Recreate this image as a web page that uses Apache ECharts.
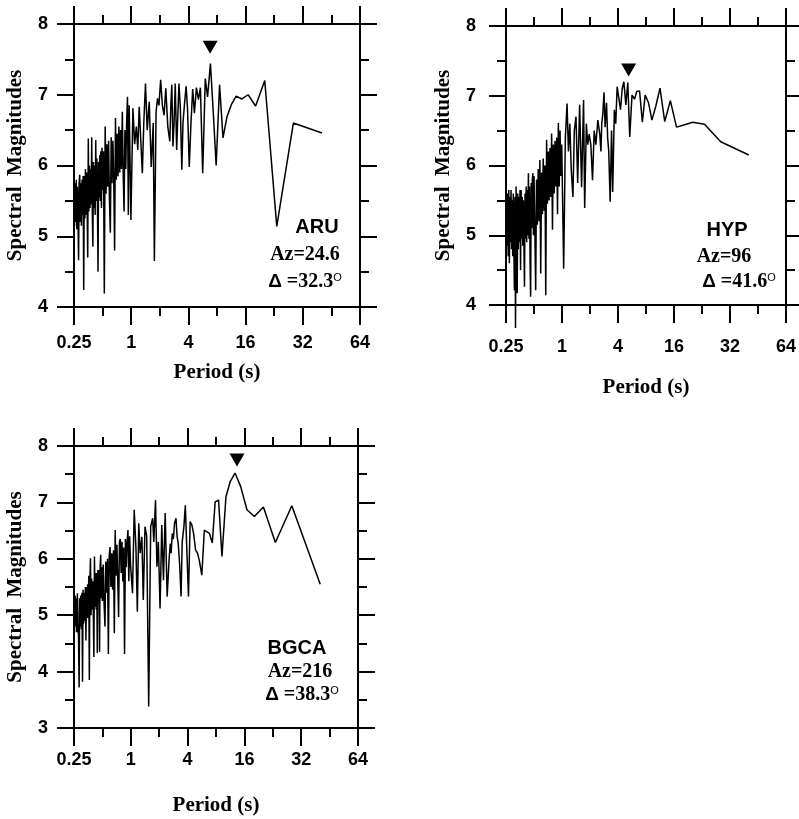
<!DOCTYPE html>
<html>
<head>
<meta charset="utf-8">
<script src="https://cdn.jsdelivr.net/npm/echarts@6/dist/echarts.min.js"></script>
<style>
  html, body { margin: 0; padding: 0; background: #fff; }
  #chart { width: 799px; height: 819px; }
</style>
</head>
<body>
<div id="chart"></div>
<script>
// period axis position, in octaves above 0.25 s (same sampling for all three stations)
const oct = [
  0.00, 0.02, 0.04, 0.06, 0.08, 0.10, 0.12, 0.14, 0.16, 0.18, 0.20, 0.22, 0.24, 0.26, 0.28, 0.30,
  0.32, 0.34, 0.36, 0.38, 0.40, 0.42, 0.44, 0.46, 0.48, 0.50, 0.52, 0.54, 0.56, 0.58, 0.60, 0.62,
  0.64, 0.66, 0.68, 0.70, 0.72, 0.74, 0.76, 0.78, 0.80, 0.82, 0.84, 0.86, 0.88, 0.90, 0.92, 0.94,
  0.96, 0.98, 1.00,
  1.03, 1.06, 1.09, 1.12, 1.15, 1.18, 1.21, 1.24, 1.27, 1.30, 1.33, 1.36, 1.39, 1.42, 1.45, 1.48,
  1.51, 1.54, 1.57, 1.60, 1.63, 1.66, 1.69, 1.72, 1.75, 1.78, 1.81, 1.84, 1.87, 1.90, 1.93, 1.96,
  1.99,
  2.06, 2.12, 2.18, 2.23, 2.28, 2.33, 2.39, 2.44, 2.50, 2.56, 2.63, 2.70, 2.77, 2.81, 2.87, 2.92,
  2.97, 3.03, 3.09, 3.15, 3.21, 3.28, 3.35, 3.39, 3.42, 3.46, 3.50, 3.54, 3.59, 3.63, 3.67, 3.72,
  3.77, 3.81, 3.87, 3.92, 3.97, 4.03, 4.09, 4.15, 4.21, 4.28, 4.35, 4.42, 4.50, 4.59, 4.67, 4.77,
  4.87, 4.97, 5.09, 5.21, 5.35, 5.50, 5.67, 5.87, 6.09, 6.35, 6.67, 7.09, 7.67, 8.67
]

const aruMag = [
  5.55, 5.15, 5.75, 5.20, 5.80, 5.10, 5.70, 5.25, 4.66, 5.75, 5.87, 5.20, 5.75, 5.15, 5.80, 5.30,
  5.85, 4.24, 5.85, 5.25, 5.95, 5.30, 5.90, 5.40, 4.70, 6.38, 5.35, 6.00, 5.40, 5.95, 5.45, 6.40,
  5.35, 4.85, 6.05, 5.40, 6.00, 5.30, 6.36, 5.50, 6.10, 5.45, 4.50, 6.05, 5.55, 6.15, 5.50, 6.20,
  5.40, 6.25, 5.65,
  6.20, 4.19, 6.55, 5.60, 6.30, 5.70, 6.35, 5.50, 5.05, 6.40, 5.75, 6.35, 5.80, 4.80, 6.67, 5.80,
  6.45, 5.85, 6.55, 5.90, 6.50, 5.95, 6.76, 5.90, 5.35, 6.50, 5.95, 6.60, 6.97, 5.30, 6.85, 6.05,
  5.23,
  6.81, 6.30, 6.55, 6.22, 6.83, 6.40, 5.89, 6.60, 7.16, 6.50, 6.90, 5.98, 6.60, 4.65, 6.76, 6.95,
  6.85, 7.21, 6.85, 6.71, 7.09, 6.55, 6.34, 6.90, 7.14, 6.27, 6.60, 7.16, 6.22, 6.70, 7.16, 6.80,
  5.94, 6.60, 6.90, 7.12, 6.80, 5.98, 6.60, 7.08, 6.74, 7.10, 6.93, 7.10, 5.89, 7.23, 6.97, 7.44,
  6.75, 6.00, 7.14, 6.39, 6.69, 6.86, 6.98, 6.94, 7.00, 6.84, 7.20, 5.14, 6.60, 6.46
]

const hypMag = [
  4.00, 5.55, 4.85, 5.60, 4.70, 5.65, 4.60, 5.55, 4.90, 5.65, 4.80, 5.50, 4.70, 5.60, 4.85, 4.21,
  5.55, 3.67, 5.70, 4.90, 4.17, 5.60, 4.80, 5.55, 4.90, 5.65, 4.50, 5.65, 4.95, 5.55, 4.85, 5.50,
  4.90, 4.26, 5.60, 4.95, 5.70, 4.90, 5.65, 5.00, 5.89, 4.95, 5.70, 4.60, 4.12, 5.75, 5.10, 5.80,
  5.89, 5.00, 5.85,
  5.10, 4.21, 5.80, 5.15, 5.95, 5.20, 6.08, 4.45, 5.90, 5.30, 6.10, 5.35, 6.00, 4.14, 6.37, 5.45,
  6.20, 5.50, 6.25, 5.55, 6.46, 5.08, 6.30, 5.60, 6.35, 5.70, 6.40, 5.30, 6.61, 5.70, 6.50, 5.85,
  6.30,
  4.52, 6.40, 6.89, 6.20, 6.60, 5.95, 5.55, 6.50, 6.70, 5.75, 6.87, 5.69, 6.94, 5.39, 6.60, 6.30,
  6.45, 6.30, 5.79, 6.50, 6.30, 6.65, 6.45, 6.20, 6.60, 6.75, 7.05, 6.55, 6.90, 6.40, 6.20, 5.48,
  6.50, 5.62, 6.80, 6.60, 7.13, 7.15, 6.80, 7.10, 7.20, 6.87, 7.19, 6.41, 7.01, 6.95, 7.06, 7.07,
  6.62, 7.01, 6.90, 6.65, 6.85, 7.11, 6.63, 6.93, 6.55, 6.58, 6.62, 6.59, 6.34, 6.15
]

const bgcaMag = [
  5.10, 4.70, 5.35, 4.80, 5.30, 4.70, 5.39, 4.85, 4.60, 3.72, 5.30, 4.80, 5.35, 4.75, 5.40, 3.82,
  5.45, 4.85, 5.40, 4.90, 5.50, 4.55, 5.50, 4.95, 5.55, 4.95, 5.70, 3.85, 5.60, 6.01, 5.00, 5.65,
  5.10, 5.60, 5.05, 4.26, 6.04, 5.15, 5.75, 5.10, 5.75, 4.33, 5.80, 5.25, 5.80, 4.35, 5.85, 6.07,
  5.30, 5.85, 5.25,
  5.90, 5.20, 4.80, 5.95, 5.40, 6.00, 4.31, 6.05, 6.21, 5.50, 6.10, 5.45, 6.15, 4.68, 6.51, 5.70,
  6.25, 5.65, 4.97, 6.30, 6.35, 5.75, 6.30, 5.60, 6.20, 4.31, 6.35, 5.85, 6.30, 6.51, 5.60, 6.40,
  5.90,
  5.39, 6.87, 6.20, 5.06, 6.63, 6.10, 6.39, 5.27, 6.57, 6.40, 3.38, 6.57, 6.72, 6.30, 7.04, 5.86,
  6.30, 5.12, 6.60, 5.62, 6.81, 5.33, 6.00, 6.27, 6.10, 6.45, 6.35, 6.63, 6.72, 6.40, 6.27, 5.90,
  5.33, 6.30, 6.57, 6.95, 6.20, 5.33, 6.66, 6.60, 6.45, 6.16, 6.10, 5.95, 5.71, 6.51, 6.48, 6.45,
  6.28, 7.01, 7.04, 6.04, 7.10, 7.37, 7.52, 7.28, 6.87, 6.75, 6.92, 6.29, 6.94, 5.55
]

// tick labels of the period axis, as printed on the figure
const periodTickPos = [0, 2, 4, 6, 8, 10]
const periodTickText = ['0.25', '1', '4', '16', '32', '64']

// inverted triangles marking the spectral peak of each station
const peakOct = [4.76, 4.38, 5.74]
const peakMag = [7.67, 7.37, 7.75]

const sans = '"Liberation Sans", Arial, sans-serif'
const serif = '"Liberation Serif", "Times New Roman", serif'
const ink = '#000'

const frame = { show: true, onZero: false, lineStyle: { color: ink, width: 2 } }
const major = len => ({ show: true, length: len, lineStyle: { color: ink, width: 2 } })
const minor = len => ({ show: true, splitNumber: 2, length: len, lineStyle: { color: ink, width: 2 } })

const periodLabel = v => {
  const i = periodTickPos.indexOf(Math.round(v * 100) / 100)
  return i >= 0 ? periodTickText[i] : ''
}

const xAxes = (grid, labelMargin, nameGap) => [
  {
    type: 'value', gridIndex: grid, position: 'bottom', min: 0, max: 10, interval: 2,
    axisLine: frame, axisTick: major(18), minorTick: minor(9), splitLine: { show: false },
    axisLabel: {
      margin: labelMargin, color: ink, fontFamily: sans, fontWeight: 'bold', fontSize: 18,
      showMinLabel: true, showMaxLabel: true, formatter: periodLabel
    },
    name: 'Period (s)', nameLocation: 'middle', nameGap,
    nameTextStyle: { fontFamily: serif, fontWeight: 'bold', fontSize: 21, color: ink }
  },
  {
    type: 'value', gridIndex: grid, position: 'top', min: 0, max: 10, interval: 2,
    axisLine: frame, axisTick: major(18), minorTick: minor(9), splitLine: { show: false },
    axisLabel: { show: false }
  }
]

const yAxes = (grid, min, labelMargin, nameGap) => [
  {
    type: 'value', gridIndex: grid, position: 'left', min, max: 8, interval: 1,
    axisLine: frame, axisTick: major(17), minorTick: minor(9), splitLine: { show: false },
    axisLabel: { margin: labelMargin, color: ink, fontFamily: sans, fontWeight: 'bold', fontSize: 18 },
    name: 'Spectral  Magnitudes', nameLocation: 'middle', nameGap,
    nameTextStyle: { fontFamily: serif, fontWeight: 'bold', fontSize: 21, color: ink }
  },
  {
    type: 'value', gridIndex: grid, position: 'right', min, max: 8, interval: 1,
    axisLine: frame, axisTick: major(17), minorTick: minor(9), splitLine: { show: false },
    axisLabel: { show: false }
  }
]

const trace = (mag, axis) => ({
  type: 'line', xAxisIndex: axis, yAxisIndex: axis,
  data: oct.map((x, i) => [x, mag[i]]),
  symbol: 'none', clip: false, silent: true,
  lineStyle: { color: '#000', width: 1.5 }
})

const peak = (i, axis) => ({
  type: 'scatter', xAxisIndex: axis, yAxisIndex: axis,
  data: [[peakOct[i], peakMag[i]]],
  symbol: 'triangle', symbolRotate: 180, symbolSize: [15, 13], silent: true,
  itemStyle: { color: ink, opacity: 1 }
})

const label = (x, y, text, font) => ({
  type: 'text', x, y, silent: true,
  style: {
    text, font, fill: ink,
    align: 'center', verticalAlign: 'middle', textAlign: 'center', textVerticalAlign: 'middle'
  }
})

const distLabel = (x, y, value) => ({
  type: 'text', x, y, silent: true,
  style: {
    text: '{d|\u0394}{v| =' + value + '}{s|O}',
    align: 'center', verticalAlign: 'middle', textAlign: 'center', textVerticalAlign: 'middle',
    rich: {
      d: { font: 'bold 19px ' + sans, fill: ink },
      v: { font: 'bold 20px ' + serif, fill: ink },
      s: { font: '11px ' + sans, fill: ink, verticalAlign: 'top', lineHeight: 11 }
    }
  }
})

const option = {
  backgroundColor: '#fff',
  animation: false,
  grid: [
    { left: 74, top: 24, width: 286, height: 283 },
    { left: 506, top: 26, width: 281, height: 279 },
    { left: 74, top: 446, width: 284, height: 282 }
  ],
  xAxis: [...xAxes(0, 27, 55), ...xAxes(1, 33, 72), ...xAxes(2, 23, 67)],
  yAxis: [...yAxes(0, 4, 26, 48), ...yAxes(1, 4, 30, 52), ...yAxes(2, 3, 26, 48)],
  series: [
    trace(aruMag, 0), trace(hypMag, 2), trace(bgcaMag, 4),
    peak(0, 0), peak(1, 2), peak(2, 4)
  ],
  graphic: [
    label(317, 227, 'ARU', 'bold 20px ' + sans),
    label(305, 255, 'Az=24.6', 'bold 20px ' + serif),
    distLabel(305, 282, '32.3'),
    label(727, 230, 'HYP', 'bold 20px ' + sans),
    label(724, 257, 'Az=96', 'bold 20px ' + serif),
    distLabel(739, 282, '41.6'),
    label(297, 648, 'BGCA', 'bold 20px ' + sans),
    label(300, 672, 'Az=216', 'bold 20px ' + serif),
    distLabel(302, 695, '38.3')
  ]
}

const chart = echarts.init(document.getElementById('chart'), null, { renderer: 'canvas' })
chart.setOption(option)
</script>
</body>
</html>
